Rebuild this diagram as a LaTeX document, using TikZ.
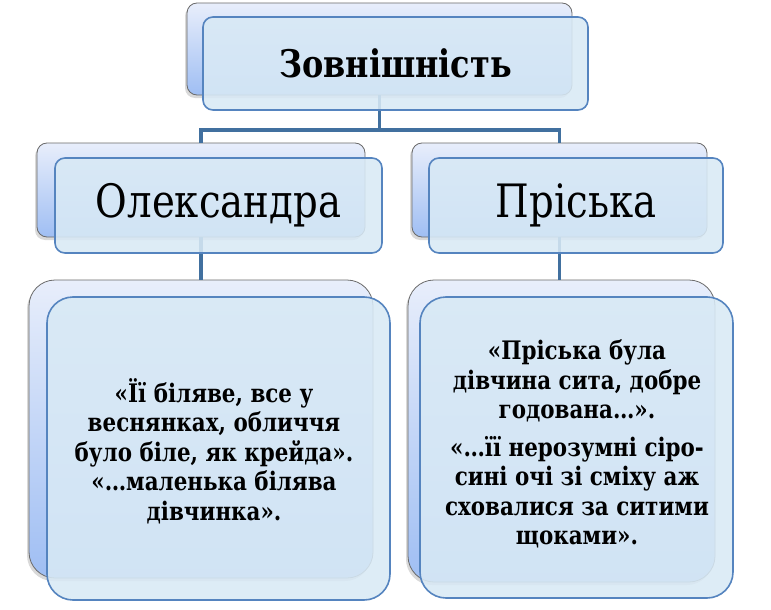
\documentclass[tikz,border=0pt]{standalone}
\usepackage{fontspec}
\setmainfont{DejaVu Serif}[FakeStretch=0.84]
\usetikzlibrary{shadows}
\definecolor{backtop}{HTML}{E8EEFB}
\definecolor{backbot}{HTML}{9FBEF3}
\definecolor{frontfill}{HTML}{D8E9F5}
\definecolor{frontline}{HTML}{5584BF}
\definecolor{connc}{HTML}{41709F}
\definecolor{backline}{HTML}{6A6A6A}
\begin{document}
\begin{tikzpicture}[x=1pt,y=-1pt,
  backbox/.style={rectangle, draw=backline, line width=0.8pt, top color=backtop, bottom color=backbot,
    drop shadow={shadow xshift=-2pt, shadow yshift=-3pt, opacity=0.3}, inner sep=0pt},
  frontbox/.style={rectangle, draw=frontline, line width=1.6pt, fill=frontfill, fill opacity=0.88, inner sep=0pt},
  smallr/.style={rounded corners=10pt},
  bigr/.style={rounded corners=26pt},
  conn/.style={draw=connc, line width=3.5pt},
  quote/.style={align=center, font=\fontsize{25.5}{29.5}\selectfont\bfseries, inner sep=0pt}
]
\useasboundingbox (0,0) rectangle (771,610);

% back boxes
\node[backbox, smallr, minimum width=385pt, minimum height=92pt] (tback) at (379.5,49) {};
\node[backbox, smallr, minimum width=328pt, minimum height=94pt] (lback) at (201,190) {};
\node[backbox, smallr, minimum width=295pt, minimum height=94pt] (rback) at (559.5,190) {};
\node[backbox, bigr, minimum width=344pt, minimum height=298pt] (lqback) at (201,429) {};
\node[backbox, bigr, minimum width=307pt, minimum height=302pt] (rqback) at (561.5,431) {};

% connectors
\coordinate (bus) at (379.5,130);
\draw[conn] (tback.south) -- (bus);
\draw[conn] (lback.north) |- (bus) -| (rback.north);
\draw[conn] (lback.south) -- (lqback.north);
\draw[conn] (rback.south) -- (rback.south |- rqback.north);

% front boxes
\node[frontbox, smallr, minimum width=385pt, minimum height=93pt] (tfront) at (395.5,63.5) {};
\node[frontbox, smallr, minimum width=327pt, minimum height=95pt] (lfront) at (218.5,205.5) {};
\node[frontbox, smallr, minimum width=294pt, minimum height=95pt] (rfront) at (576,205.5) {};
\node[frontbox, bigr, minimum width=343pt, minimum height=303pt] (lqfront) at (218.5,448.5) {};
\node[frontbox, bigr, minimum width=313pt, minimum height=301pt] (rqfront) at (576.5,447.5) {};

% texts
\node[font=\fontsize{38}{46}\selectfont\bfseries, inner sep=0pt] (ttext) at (tfront.center) {Зовнішність};
\node[font=\fontsize{46}{52}\selectfont, inner sep=0pt] (ltext) at (lfront.center) {Олександра};
\node[font=\fontsize{46}{52}\selectfont, inner sep=0pt] (rtext) at (rfront.center) {Пріська};
\node[quote] (lq) at (214,451) {«Її біляве, все у\\веснянках, обличчя\\було біле, як крейда».\\«…маленька білява\\дівчинка».};
\node[quote] (rq) at (577,444) {«Пріська була\\дівчина сита, добре\\годована…».\\[8pt]«…її нерозумні сіро-\\сині очі зі сміху аж\\сховалися за ситими\\щоками».};
\end{tikzpicture}
\end{document}
